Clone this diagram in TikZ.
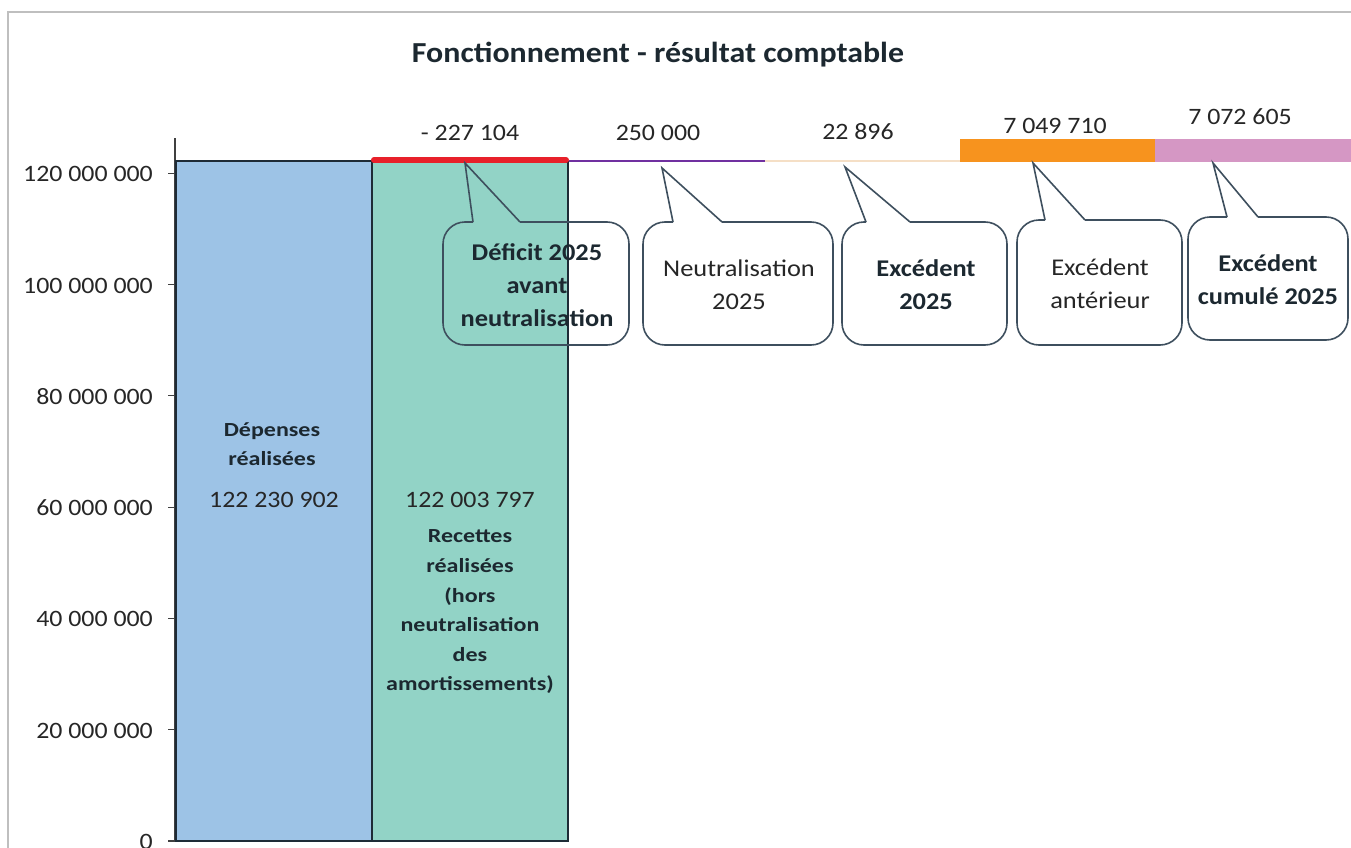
\documentclass[tikz,border=0pt]{standalone}
\usepackage{fontspec}
\setmainfont{Carlito}[FakeStretch=1.1]
\newfontfamily\barfont{Carlito}[FakeStretch=1.2]
\definecolor{txt}{HTML}{262626}
\definecolor{dtxt}{HTML}{1C2830}
\definecolor{edge}{HTML}{1E2B36}
\definecolor{bluebar}{HTML}{9DC3E6}
\definecolor{tealbar}{HTML}{92D3C6}
\definecolor{redbar}{HTML}{E8202A}
\definecolor{purplebar}{HTML}{7030A0}
\definecolor{beigebar}{HTML}{F5DFC6}
\definecolor{orangebar}{HTML}{F7931E}
\definecolor{pinkbar}{HTML}{D597C4}
\definecolor{cbord}{HTML}{3E4F5E}
\definecolor{frame}{HTML}{BFBFBF}
\definecolor{axisc}{HTML}{404040}
\begin{document}
\begin{tikzpicture}[x=1pt,y=-1pt,
  every node/.style={inner sep=0pt, text=txt},
  barbox/.style={draw=edge, line width=2pt},
  axlbl/.style={anchor=east, font=\fontsize{23.5}{28}\selectfont},
  vallbl/.style={font=\fontsize{23.5}{28}\selectfont},
  titlelbl/.style={text=dtxt, font=\bfseries\fontsize{29}{34}\selectfont},
  barlbl/.style={align=center, text=dtxt, font=\barfont\bfseries\fontsize{20}{29.6}\selectfont},
  callbox/.style={draw=cbord, line width=1.6pt, rounded corners=22pt},
  callptr/.style={draw=cbord, line width=1.6pt, line join=miter},
  calltxt/.style={align=center, font=\fontsize{24}{33}\selectfont},
  callbold/.style={align=center, text=dtxt, font=\bfseries\fontsize{24}{33}\selectfont}]
\useasboundingbox (0,0) rectangle (1351,848);
\clip (0,0) rectangle (1351,848);
% frame
\draw[frame, line width=1.5pt] (8,860) -- (8,12) -- (1360,12);
% title
\node[titlelbl] (title) at (658,55) {Fonctionnement - résultat comptable};
% axis
\draw[axisc, line width=1.2pt] (175,138) -- (175,841);
\foreach \k/\lab in {0/0,1/20 000 000,2/40 000 000,3/60 000 000,4/80 000 000,5/100 000 000,6/120 000 000}{
  \draw[axisc, line width=1.2pt] (168,841-111.3*\k) -- (175,841-111.3*\k);
  \node[axlbl] (ax\k) at (153,842-111.3*\k) {\lab};
}
% bars
\filldraw[fill=bluebar, barbox] (176,161) rectangle (372,841);
\filldraw[fill=tealbar, barbox] (372,162) rectangle (568,841);
\draw[redbar, line width=6pt, line cap=round] (374,160) -- (566,160);
\draw[purplebar, line width=2.5pt] (569,161) -- (765,161);
\draw[beigebar, line width=2pt] (765,161) -- (960,161);
\fill[orangebar] (960,139) rectangle (1155,162);
\fill[pinkbar] (1155,139) rectangle (1351,162);
% bar labels
\node[barlbl] (dep) at (272,444) {Dépenses\\réalisées};
\node[vallbl] (depv) at (274,500) {122 230 902};
\node[vallbl] (recv) at (470,500) {122 003 797};
\node[barlbl] (rec) at (470,612) {Recettes\\réalisées\\(hors\\neutralisation\\des\\amortissements)};
% value labels
\node[vallbl] (v1) at (470,133) {- 227 104};
\node[vallbl] (v2) at (658,133) {250 000};
\node[vallbl] (v3) at (858,132) {22 896};
\node[vallbl] (v4) at (1055,126) {7 049 710};
\node[vallbl] (v5) at (1240,117) {7 072 605};
% callout tips
\coordinate (tip1) at (465,163);
\coordinate (tip2) at (662,168);
\coordinate (tip3) at (845,167);
\coordinate (tip4) at (1033,163);
\coordinate (tip5) at (1213,163);
% callout 1
\draw[callbox] (520,222) -- (629,222) -- (629,345) -- (443,345) -- (443,222) -- (473,222);
\draw[callptr] (473,222) -- (tip1) -- (520,222);
\node[callbold] (c1) at (537,285) {Déficit 2025\\avant\\neutralisation};
% callout 2
\draw[callbox] (722,222) -- (833,222) -- (833,345) -- (643,345) -- (643,222) -- (673,222);
\draw[callptr] (673,222) -- (tip2) -- (722,222);
\node[calltxt] (c2) at (739,285) {Neutralisation\\2025};
% callout 3
\draw[callbox] (910,222) -- (1007,222) -- (1007,345) -- (842,345) -- (842,222) -- (866,222);
\draw[callptr] (866,222) -- (tip3) -- (910,222);
\node[callbold] (c3) at (926,285) {Excédent\\2025};
% callout 4
\draw[callbox] (1085,220) -- (1182,220) -- (1182,345) -- (1017,345) -- (1017,220) -- (1045,220);
\draw[callptr] (1045,220) -- (tip4) -- (1085,220);
\node[calltxt] (c4) at (1100,284) {Excédent\\antérieur};
% callout 5
\draw[callbox] (1258,217) -- (1348,217) -- (1348,340) -- (1188,340) -- (1188,217) -- (1227,217);
\draw[callptr] (1227,217) -- (tip5) -- (1258,217);
\node[callbold] (c5) at (1268,280) {Excédent\\cumulé 2025};
\end{tikzpicture}
\end{document}
